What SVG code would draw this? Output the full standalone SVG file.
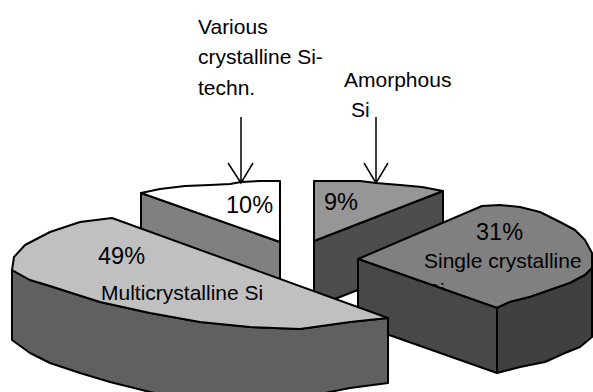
<svg xmlns="http://www.w3.org/2000/svg" width="593" height="392" viewBox="0 0 593 392">
<style>
.edge{stroke:#000;stroke-width:2;stroke-linejoin:round}
.lbl{font-family:"Liberation Sans",Arial,sans-serif;font-size:21px;fill:#000}
.pct{font-family:"Liberation Sans",Arial,sans-serif;font-size:23.5px;fill:#000}
.arr{stroke:#000;stroke-width:1.5;fill:none}
</style>
<rect width="593" height="392" fill="#fff"/>
<g id="slice-10">
<path class="edge" fill="#808080" d="M141,193 L280,242 L280,308 L141,259 Z"/>
<path class="edge" fill="#ffffff" d="M141,193 L160,189 L185,186 L210,185 L230,184 L241,182 L260,181 L280,181 L280,242 Z"/>
<text class="pct" x="226" y="213">10%</text>
</g>
<g id="slice-9">
<path class="edge" fill="#4d4d4d" d="M314,241 L443,191 L443,257 L314,307 Z"/>
<path class="edge" fill="#969696" d="M314,181 L360,181 L376,183 L400,185 L422,187 L443,191 L314,241 Z"/>
<text class="pct" x="324" y="210">9%</text>
</g>
<g id="slice-31">
<path class="edge" fill="#808080" d="M358,259 L482,206 L500,205 L520,207 L540,212 L560,222 L575,230 L585,240 L592,253 L592,268 L585,275 L570,283 L550,290 L530,297 L510,302 L497,308 Z"/>
<text class="pct" x="476" y="240">31%</text>
<text class="lbl" x="424" y="268">Single crystalline</text>
<text class="lbl" x="426" y="298">Si</text>
<path class="edge" fill="#484848" d="M358,259 L497,308 L497,373 L358,324 Z"/>
<path class="edge" fill="#404040" d="M497,308 L510,302 L530,297 L550,290 L570,283 L585,275 L592,268 L592,337 L580,347 L565,353 L545,362 L520,367 L497,373 Z"/>
</g>
<g id="slice-49">
<path class="edge" fill="#606060" d="M12,270 L30,280 L50,286 L100,302 L150,313 L200,322 L250,327 L300,329 L350,322 L388,318 L388,383 L350,388 L320,394 L300,398 L200,402 L150,392 L110,382 L80,373 L50,363 L30,353 L12,340 Z"/>
<path class="edge" fill="#c0c0c0" d="M388,318 L112,218 L80,222 L50,232 L25,245 L14,257 L12,270 L30,280 L50,286 L100,302 L150,313 L200,322 L250,327 L300,329 L350,322 Z"/>
<text class="pct" x="98" y="264">49%</text>
<text class="lbl" x="101" y="300">Multicrystalline Si</text>
</g>
<g id="label-various">
<text class="lbl" x="198" y="34">Various</text>
<text class="lbl" x="198" y="64">crystalline Si-</text>
<text class="lbl" x="198" y="95">techn.</text>
</g>
<g id="label-amorphous">
<text class="lbl" x="344" y="87">Amorphous</text>
<text class="lbl" x="351" y="117">Si</text>
</g>
<g id="connectors">
<path class="arr" d="M241,117 L241,183 M228,163 L241,183 L253,163"/>
<path class="arr" d="M376,117 L376,183 M364,163 L376,183 L388,163"/>
</g>
</svg>
